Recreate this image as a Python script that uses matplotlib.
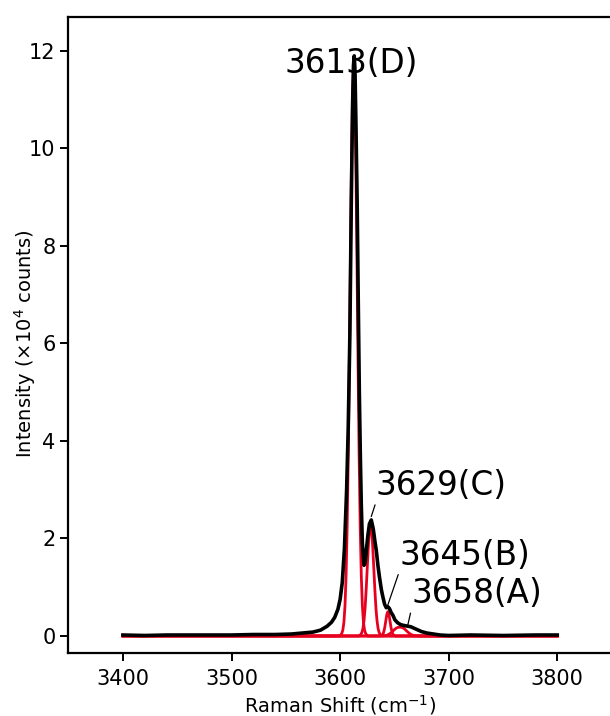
import matplotlib
matplotlib.use("Agg")
import matplotlib.pyplot as plt

shift = [3400, 3420, 3440, 3460, 3480, 3500, 3520, 3540, 3555, 3565, 3575, 3582,
         3588, 3592, 3595, 3598, 3600, 3602, 3604, 3606, 3607.5, 3609, 3610.3,
         3611.5, 3612.3, 3613, 3613.7, 3614.5, 3615.7, 3616.7, 3617.7, 3618.7,
         3619.5, 3620.5, 3622, 3623, 3624, 3625.5, 3627, 3628.7, 3630.5, 3632,
         3633.3, 3634.8, 3636.3, 3638, 3639.4, 3641, 3642.5, 3644, 3645.5, 3647,
         3648.5, 3650.5, 3653, 3656, 3660, 3665, 3670, 3675, 3680, 3686, 3692,
         3700, 3720, 3750, 3780, 3800]
intensity = [0.02, 0.01, 0.02, 0.02, 0.02, 0.02, 0.03, 0.03, 0.04, 0.06, 0.08, 0.12,
             0.2, 0.28, 0.38, 0.55, 0.75, 1.1, 1.8, 3.0, 4.3, 6.2, 8.9,
             10.9, 11.7, 11.9, 11.6, 10.6, 8.9, 6.9, 5.0, 3.6,
             2.7, 1.9, 1.45, 1.5, 1.72, 2.05, 2.3, 2.38, 2.2, 1.95,
             1.76, 1.45, 1.2, 0.95, 0.8, 0.65, 0.58, 0.6, 0.56, 0.48,
             0.43, 0.33, 0.27, 0.23, 0.21, 0.19, 0.14, 0.09, 0.06, 0.04, 0.02,
             0.01, 0.02, 0.01, 0.02, 0.02]

# fitted components (red)
d_x = [3400, 3599.5, 3600.5, 3601.5, 3602.5, 3603.5, 3604.5, 3605.5, 3606.5,
       3607.5, 3608.5, 3609.5, 3610.5, 3611.5, 3612.5, 3613.5, 3614.5, 3615.5,
       3616.5, 3617.5, 3618.5, 3619.5, 3620.5, 3621.5, 3622.5, 3623.5, 3624.5,
       3625.5, 3800]
d_y = [0, 0, 0.02, 0.05, 0.12, 0.28, 0.62, 1.24, 2.25,
       3.72, 5.62, 7.75, 9.73, 11.17, 11.7, 11.17, 9.73, 7.75,
       5.62, 3.72, 2.25, 1.24, 0.62, 0.28, 0.12, 0.05, 0.02,
       0, 0]
c_x = [3400, 3617, 3618, 3619, 3620, 3621, 3622, 3623, 3624, 3625, 3626, 3627,
       3628, 3629, 3630, 3631, 3632, 3633, 3634, 3635, 3636, 3637, 3638, 3639,
       3800]
c_y = [0, 0, 0.01, 0.03, 0.07, 0.15, 0.31, 0.57, 0.95, 1.40, 1.84, 2.18,
       2.3, 2.18, 1.84, 1.40, 0.95, 0.57, 0.31, 0.15, 0.07, 0.03, 0.01, 0,
       0]
b_x = [3400, 3637, 3638, 3639, 3640, 3641, 3642, 3643, 3644, 3645, 3646, 3647,
       3648, 3649, 3650, 3651, 3800]
b_y = [0, 0, 0.01, 0.02, 0.07, 0.16, 0.30, 0.44, 0.5, 0.44, 0.30, 0.16,
       0.07, 0.02, 0.01, 0, 0]
a_x = [3400, 3638, 3640, 3642, 3644, 3646, 3648, 3650, 3652, 3654, 3656, 3658,
       3660, 3662, 3664, 3666, 3668, 3670, 3672, 3674, 3800]
a_y = [0, 0, 0.004, 0.01, 0.024, 0.05, 0.088, 0.131, 0.166, 0.18, 0.18, 0.166,
       0.131, 0.088, 0.05, 0.024, 0.01, 0.004, 0.002, 0, 0]

labels = ["3613(D)", "3629(C)", "3645(B)", "3658(A)"]

RED = "#e8001f"

fig = plt.figure(figsize=(6.1, 7.16), dpi=100)
ax = fig.add_axes([68 / 610, 1 - 653 / 716, (617 - 68) / 610, (653 - 17) / 716])

for xs, ys in [(d_x, d_y), (c_x, c_y), (b_x, b_y), (a_x, a_y)]:
    ax.plot(xs, ys, color=RED, lw=2.0, zorder=2)
ax.plot(shift, intensity, color="black", lw=2.6, zorder=3,
        solid_joinstyle="round")

ax.set_xlim(3349.4, 3855)
ax.set_ylim(-0.349, 12.697)
ax.set_xticks([3400, 3500, 3600, 3700, 3800])
ax.set_yticks([0, 2, 4, 6, 8, 10, 12])

for side in ["left", "bottom", "top"]:
    ax.spines[side].set_linewidth(1.6)
ax.spines["right"].set_visible(False)
ax.tick_params(direction="out", length=5.5, width=1.4, labelsize=15)
ax.tick_params(axis="x", pad=6)
ax.tick_params(axis="y", pad=3.5)

# peak labels
ax.text(3548.4, 11.54, labels[0], fontsize=23.5, ha="left", va="baseline",
        zorder=4)
arrow = dict(arrowstyle="-", lw=0.9, color="black", relpos=(0, 0),
             shrinkA=0, shrinkB=0)
ax.annotate(labels[1], xy=(3628.7, 2.45), xytext=(3633.0, 2.89),
            fontsize=23.5, ha="left", va="baseline", arrowprops=arrow)
ax.annotate(labels[2], xy=(3644.0, 0.64), xytext=(3654.4, 1.46),
            fontsize=23.5, ha="left", va="baseline", arrowprops=arrow)
ax.annotate(labels[3], xy=(3662.4, 0.23), xytext=(3665.4, 0.67),
            fontsize=23.5, ha="left", va="baseline", arrowprops=arrow)

plt.rcParams["mathtext.default"] = "regular"
fig.text(340 / 610, 1 - 712 / 716, "Raman Shift (cm$^{-1}$)", fontsize=14,
         ha="center", va="baseline")
fig.text(25 / 610, 1 - 344 / 716, "Intensity (\u00d710$^{4}$ counts)",
         fontsize=14, ha="center", va="center", rotation=90)

fig.savefig("out.png", dpi=100)
